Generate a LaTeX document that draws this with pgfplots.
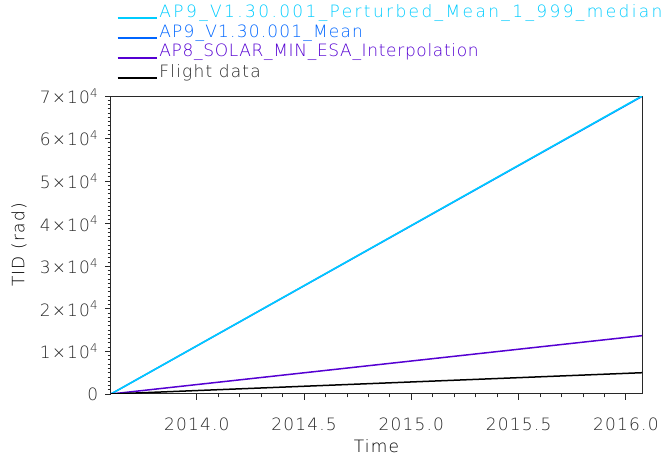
\documentclass[border=0pt]{standalone}
\usepackage{pgfplots}
\pgfplotsset{compat=1.18}
\usepackage{fontspec}
\setmainfont{DejaVu Sans ExtraLight}[LetterSpace=7]
\newfontfamily\wideA{DejaVu Sans ExtraLight}[LetterSpace=14]
\newfontfamily\wideC{DejaVu Sans ExtraLight}[LetterSpace=4]
\definecolor{cpert}{RGB}{0,204,255}
\definecolor{cmean}{RGB}{0,102,255}
\definecolor{cap8}{RGB}{85,0,210}
\definecolor{txt}{RGB}{40,40,40}
\begin{document}
\fontsize{17pt}{20pt}\selectfont
\begin{tikzpicture}
\useasboundingbox (-111pt,-63pt) rectangle (559pt,394pt);
\begin{axis}[
  scale only axis, width=531pt, height=298pt,
  at={(0,0)}, anchor=south west,
  xmin=2013.6, xmax=2016.075, ymin=0, ymax=70000,
  axis line style={txt, line width=1pt},
  tick style={txt, line width=0.9pt},
  tick pos=left, tick align=outside,
  major tick length=6pt, minor tick length=3.5pt,
  xtick={2014,2014.5,2015,2015.5,2016},
  xticklabels={2014.0,2014.5,2015.0,2015.5,2016.0},
  minor x tick num=4,
  ytick={0,10000,20000,30000,40000,50000,60000,70000},
  yticklabels={0,1×10\textsuperscript{4},2×10\textsuperscript{4},3×10\textsuperscript{4},4×10\textsuperscript{4},5×10\textsuperscript{4},6×10\textsuperscript{4},7×10\textsuperscript{4}},
  minor y tick num=9,
  scaled y ticks=false,
  ticklabel style={font=\fontsize{17pt}{20pt}\selectfont, text=txt},
  xticklabel shift=12pt,
  yticklabel style={xshift=-1pt},
  xlabel={Time}, ylabel={TID (rad)},
  label style={font=\fontsize{17pt}{20pt}\selectfont, text=txt},
  every axis x label/.style={at={(axis description cs:0.5,0)}, anchor=base, yshift=-59pt},
  every axis y label/.style={at={(axis description cs:-0.1733,0.5)}, rotate=90, anchor=center},
  legend style={at={(axis description cs:0.011,1)}, anchor=south west, yshift=13pt, draw=none, fill=none,
    font=\fontsize{17pt}{20pt}\selectfont, row sep=0pt, inner sep=0pt, outer sep=0pt,
    nodes={inner sep=0pt, text height=14pt, text depth=6pt}},
  legend cell align=left,
  legend image code/.code={\draw[#1, line width=1.6pt] (0pt,-5pt) -- (39pt,-5pt);},
]
\addlegendimage{cpert}
\addlegendentry{\hspace{2pt}\wideA\textcolor{cpert}{AP9\_V1.30.001\_Perturbed\_Mean\_1\_999\_median}}
\addlegendimage{cmean}
\addlegendentry{\hspace{2pt}\textcolor{cmean}{AP9\_V1.30.001\_Mean}}
\addlegendimage{cap8}
\addlegendentry{\hspace{2pt}\wideC\textcolor{cap8}{AP8\_SOLAR\_MIN\_ESA\_Interpolation}}
\addlegendimage{black}
\addlegendentry{\hspace{2pt}\textcolor{black!85}{Flight data}}
\addplot[cmean, line width=1.5pt, forget plot] coordinates {(2013.6,0) (2016.075,69900)};
\addplot[cpert, line width=1.5pt, forget plot] coordinates {(2013.6,0) (2016.075,70000)};
\addplot[cap8, line width=1.5pt, forget plot] coordinates {(2013.6,0) (2016.075,13700)};
\addplot[black, line width=1.5pt, forget plot] coordinates {(2013.6,0) (2016.075,5000)};
\end{axis}
\end{tikzpicture}
\end{document}
